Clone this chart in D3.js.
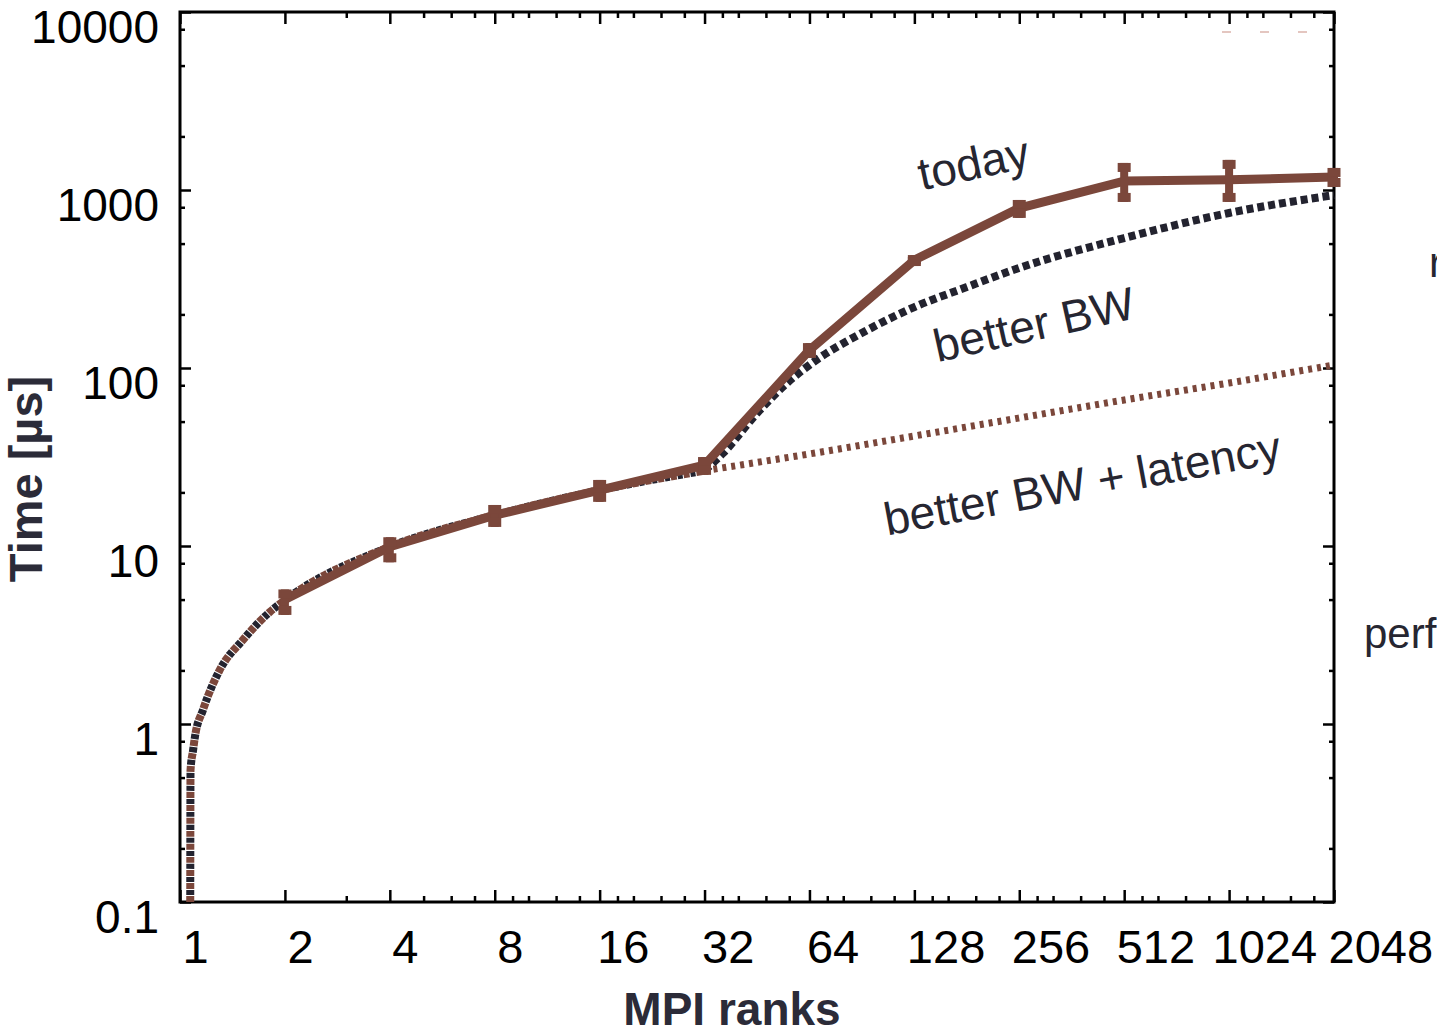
<!DOCTYPE html>
<html>
<head>
<meta charset="utf-8">
<script src="https://cdn.jsdelivr.net/npm/d3@7"></script>
<style>
  body { margin: 0; background: #fff; }
  text { font-family: "Liberation Sans", Arial, sans-serif; }
</style>
</head>
<body>
<div id="chart"></div>
<script>
// measured runtimes (today) with error bars
const ranks = [2, 4, 8, 16, 32, 64, 128, 256, 512, 1024, 2048];
const todayTime = [5.0, 9.9, 14.9, 20.6, 28.5, 126, 404, 792, 1123, 1140, 1183];
const todayLow = [4.1, 8.1, 12.8, 17.7, 25.1, 114, 374, 697, 857, 857, 1040];
const todayHigh = [5.7, 11.2, 17.0, 23.5, 31.6, 138, 431, 879, 1419, 1476, 1330];

// model, shared part of both curves (up to 32 ranks)
const sharedRanks = [1.07, 1.072, 1.09, 1.104, 1.164, 1.30, 1.516, 1.81, 2, 4, 8, 16, 32];
const sharedTime = [0.1, 0.55, 0.71, 0.85, 1.2, 2.01, 2.97, 4.26, 4.97, 9.9, 14.9, 20.6, 26.5];

// model: better bandwidth (from 32 ranks on)
const bwRanks = [32, 36.2, 45.3, 55.2, 64, 93.6, 128, 181, 256, 512, 1024, 2048];
const bwTime = [26.5, 33.3, 55.8, 82.4, 104, 163, 220, 285, 365, 537, 743, 937];

// model: better bandwidth + latency (from 32 ranks on)
const latRanks = [32, 64, 128, 256, 512, 1024, 2048];
const latTime = [26.5, 32.9, 41.5, 52.4, 66.1, 82.4, 104];

const xTicks = [1, 2, 4, 8, 16, 32, 64, 128, 256, 512, 1024, 2048];
const yTicks = [0.1, 1, 10, 100, 1000, 10000];
const yLabels = ['0.1', '1', '10', '100', '1000', '10000'];

const annotations = [
    { text: 'today', rank: 189, time: 1419, angle: -12 },
    { text: 'better BW', rank: 282, time: 176, angle: -12.5 },
    { text: 'better BW + latency', rank: 388, time: 22.6, angle: -10.5 }
];

const brown = '#7b473b';
const dark = '#23232f';
const labelColor = '#262631';

const svg = d3.select('#chart').append('svg')
    .attr('width', 1437)
    .attr('height', 1029);

const plotLeft = 180, plotRight = 1334, plotTop = 12, plotBottom = 902;

const x = d3.scaleLog().base(2).domain([1, 2048]).range([plotLeft, plotRight]);
const y = d3.scaleLog().base(10).domain([0.1, 10000]).range([plotBottom, plotTop]);

// minor ticks
const xMinor = [];
for (let b = 2; b < 2048; b *= 2) {
    [1.125, 1.25, 1.5, 1.75].forEach(m => {
        const v = b * m;
        if (Number.isInteger(v)) xMinor.push(v);
    });
}
const yMinor = [];
for (let e = -1; e < 4; e++) {
    [2, 5, 8].forEach(m => yMinor.push(m * Math.pow(10, e)));
}

function stripDomain(g) { g.select('.domain').remove(); }

// label left edge relative to its tick
function labelShift(d) {
    if (d === 2048) return -6;
    if (d === 1024) return -17;
    return 2 - 5 * (String(d).length - 1);
}

// bottom axis
svg.append('g')
    .attr('transform', `translate(0, ${plotBottom})`)
    .call(d3.axisBottom(x).tickValues(xMinor).tickSize(-6).tickFormat(''))
    .call(stripDomain);
const xAxis = svg.append('g')
    .attr('transform', `translate(0, ${plotBottom})`)
    .call(d3.axisBottom(x).tickValues(xTicks).tickSize(-12).tickFormat(d3.format('d')))
    .call(stripDomain);
xAxis.selectAll('text')
    .attr('y', 61)
    .attr('dy', null)
    .attr('text-anchor', 'start')
    .attr('x', labelShift)
    .style('font-size', '47px')
    .attr('fill', '#000');

// top axis
svg.append('g')
    .attr('transform', `translate(0, ${plotTop})`)
    .call(d3.axisTop(x).tickValues(xMinor).tickSize(-6).tickFormat(''))
    .call(stripDomain);
svg.append('g')
    .attr('transform', `translate(0, ${plotTop})`)
    .call(d3.axisTop(x).tickValues(xTicks).tickSize(-12).tickFormat(''))
    .call(stripDomain);

// left axis
svg.append('g')
    .attr('transform', `translate(${plotLeft}, 0)`)
    .call(d3.axisLeft(y).tickValues(yMinor).tickSize(-5).tickFormat(''))
    .call(stripDomain);
const yAxis = svg.append('g')
    .attr('transform', `translate(${plotLeft}, 0)`)
    .call(d3.axisLeft(y).tickValues(yTicks).tickSize(-11).tickPadding(21)
        .tickFormat((d, i) => yLabels[i]))
    .call(stripDomain);
yAxis.selectAll('text')
    .attr('dy', '0.67em')
    .style('font-size', '46px')
    .attr('fill', '#000');

// right axis
svg.append('g')
    .attr('transform', `translate(${plotRight}, 0)`)
    .call(d3.axisRight(y).tickValues(yMinor).tickSize(-5).tickFormat(''))
    .call(stripDomain);
svg.append('g')
    .attr('transform', `translate(${plotRight}, 0)`)
    .call(d3.axisRight(y).tickValues(yTicks).tickSize(-11).tickFormat(''))
    .call(stripDomain);

svg.selectAll('.tick line').attr('stroke', '#000').attr('stroke-width', 2.5);

// frame
svg.append('rect')
    .attr('x', plotLeft).attr('y', plotTop)
    .attr('width', plotRight - plotLeft).attr('height', plotBottom - plotTop)
    .attr('fill', 'none')
    .attr('stroke', '#000')
    .attr('stroke-width', 3);

// model curves
const curve = d3.line()
    .x(d => x(d[0]))
    .y(d => y(d[1]))
    .curve(d3.curveMonotoneX);

const shared = d3.zip(sharedRanks, sharedTime);

// overlapping part: brown and dark dashes alternate
svg.append('path')
    .datum(shared)
    .attr('d', curve)
    .attr('fill', 'none')
    .attr('stroke', brown)
    .attr('stroke-width', 8)
    .attr('stroke-dasharray', '6,7');
svg.append('path')
    .datum(shared)
    .attr('d', curve)
    .attr('fill', 'none')
    .attr('stroke', dark)
    .attr('stroke-width', 8)
    .attr('stroke-dasharray', '5,8')
    .attr('stroke-dashoffset', -7);

svg.append('path')
    .datum(d3.zip(latRanks, latTime))
    .attr('d', curve)
    .attr('fill', 'none')
    .attr('stroke', brown)
    .attr('stroke-width', 7)
    .attr('stroke-dasharray', '4,5');

svg.append('path')
    .datum(d3.zip(bwRanks, bwTime))
    .attr('d', curve)
    .attr('fill', 'none')
    .attr('stroke', dark)
    .attr('stroke-width', 8)
    .attr('stroke-dasharray', '7,4');

// measured line
const todayData = ranks.map((r, i) => ({ rank: r, t: todayTime[i], lo: todayLow[i], hi: todayHigh[i] }));

svg.append('path')
    .datum(todayData)
    .attr('d', d3.line().x(d => x(d.rank)).y(d => y(d.t)))
    .attr('fill', 'none')
    .attr('stroke', brown)
    .attr('stroke-width', 9)
    .attr('stroke-linejoin', 'round');

const bars = svg.append('g').selectAll('g')
    .data(todayData)
    .enter()
    .append('g')
    .attr('fill', brown);

bars.append('rect')
    .attr('x', d => x(d.rank) - 4)
    .attr('y', d => y(d.hi))
    .attr('width', 8)
    .attr('height', d => y(d.lo) - y(d.hi));
bars.append('rect')
    .attr('x', d => x(d.rank) - 6.5)
    .attr('y', d => y(d.hi))
    .attr('width', 13)
    .attr('height', 9);
bars.append('rect')
    .attr('x', d => x(d.rank) - 6.5)
    .attr('y', d => y(d.lo) - 9)
    .attr('width', 13)
    .attr('height', 9);

// annotations
svg.append('g').selectAll('text')
    .data(annotations)
    .enter()
    .append('text')
    .attr('transform', d => `translate(${x(d.rank)}, ${y(d.time)}) rotate(${d.angle})`)
    .attr('text-anchor', 'middle')
    .attr('dy', '0.35em')
    .attr('fill', labelColor)
    .style('font-size', '46px')
    .text(d => d.text);

// axis titles
svg.append('text')
    .attr('x', 732)
    .attr('y', 1025)
    .attr('text-anchor', 'middle')
    .attr('fill', '#2b2b38')
    .style('font-size', '46px')
    .style('font-weight', 'bold')
    .text('MPI ranks');

svg.append('text')
    .attr('transform', 'translate(42, 479) rotate(-90)')
    .attr('text-anchor', 'middle')
    .attr('fill', '#2b2b38')
    .style('font-size', '47px')
    .style('font-weight', 'bold')
    .text('Time [µs]');

// cropped remnants from the original slide
svg.append('text')
    .attr('x', 1364).attr('y', 648)
    .attr('fill', labelColor)
    .style('font-size', '42px')
    .text('perf');
svg.append('text')
    .attr('x', 1429).attr('y', 277)
    .attr('fill', labelColor)
    .style('font-size', '42px')
    .text('r');
svg.append('line')
    .attr('x1', 1222).attr('x2', 1310)
    .attr('y1', 32).attr('y2', 32)
    .attr('stroke', '#dcb4ac')
    .attr('stroke-width', 1.5)
    .attr('stroke-dasharray', '9,29');
</script>
</body>
</html>
